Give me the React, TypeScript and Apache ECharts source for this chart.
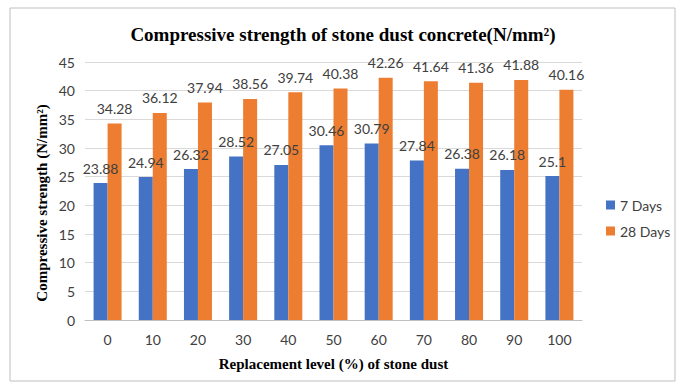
import React, { useEffect, useRef } from "react";
import * as echarts from "echarts";

const categories = ["0", "10", "20", "30", "40", "50", "60", "70", "80", "90", "100"];
const days7 = [23.88, 24.94, 26.32, 28.52, 27.05, 30.46, 30.79, 27.84, 26.38, 26.18, 25.1];
const days28 = [34.28, 36.12, 37.94, 38.56, 39.74, 40.38, 42.26, 41.64, 41.36, 41.88, 40.16];
const seriesNames = ["7 Days", "28 Days"];
const yAxisTitle = "Compressive strength (N/mm²)";

const sansFont = "Lato, 'Open Sans', sans-serif";
const serifFont = "'Liberation Serif', 'DejaVu Serif', serif";

export default function App() {
  const ref = useRef<HTMLDivElement>(null);
  useEffect(() => {
    document.body.style.margin = "0";
    const chart = echarts.init(ref.current!, null, { renderer: "svg" });
    const labelStyle = {
      show: true,
      position: "top" as const,
      distance: 8,
      fontFamily: sansFont,
      fontSize: 14,
      color: "#404040",
    };
    chart.setOption({
      animation: false,
      backgroundColor: "#ffffff",
      graphic: [
        {
          type: "rect",
          shape: { x: 10, y: 8, width: 665, height: 373 },
          style: { fill: "none", stroke: "#bfbfbf", lineWidth: 1 },
          silent: true,
        },
        {
          type: "text",
          x: 42,
          y: 203,
          rotation: Math.PI / 2,
          style: {
            text: yAxisTitle,
            fontFamily: serifFont,
            fontWeight: "bold",
            fontSize: 15,
            fill: "#000000",
            align: "center",
            verticalAlign: "middle",
          },
          silent: true,
        },
      ],
      title: {
        text: "Compressive strength of stone dust concrete(N/mm²)",
        left: "center",
        top: 20,
        textStyle: {
          fontFamily: serifFont,
          fontWeight: "bold",
          fontSize: 19,
          color: "#000000",
        },
      },
      legend: {
        orient: "vertical",
        left: 601,
        top: 193,
        itemWidth: 9,
        itemHeight: 9,
        itemGap: 12,
        icon: "rect",
        data: seriesNames,
        textStyle: { fontFamily: sansFont, fontSize: 14, color: "#404040" },
      },
      grid: { left: 85, right: 104, top: 62, bottom: 66 },
      xAxis: {
        type: "category",
        data: categories,
        name: "Replacement level (%) of stone dust",
        nameLocation: "middle",
        nameGap: 36,
        nameTextStyle: {
          fontFamily: serifFont,
          fontWeight: "bold",
          fontSize: 15,
          color: "#000000",
        },
        axisLine: { lineStyle: { color: "#bfbfbf" } },
        axisTick: { show: false },
        axisLabel: { fontFamily: sansFont, fontSize: 14, color: "#404040", margin: 12 },
      },
      yAxis: {
        type: "value",
        min: 0,
        max: 45,
        interval: 5,
        axisLine: { show: false },
        axisTick: { show: false },
        axisLabel: { fontFamily: sansFont, fontSize: 14, color: "#404040", margin: 10 },
        splitLine: { lineStyle: { color: "#d9d9d9" } },
      },
      series: [
        {
          name: seriesNames[0],
          type: "bar",
          data: days7,
          barWidth: 14,
          barGap: "0%",
          itemStyle: { color: "#4472C4" },
          label: labelStyle,
        },
        {
          name: seriesNames[1],
          type: "bar",
          data: days28,
          barWidth: 14,
          barGap: "0%",
          itemStyle: { color: "#ED7D31" },
          label: labelStyle,
        },
      ],
    });
    return () => chart.dispose();
  }, []);
  return <div ref={ref} style={{ width: 686, height: 386 }} />;
}
